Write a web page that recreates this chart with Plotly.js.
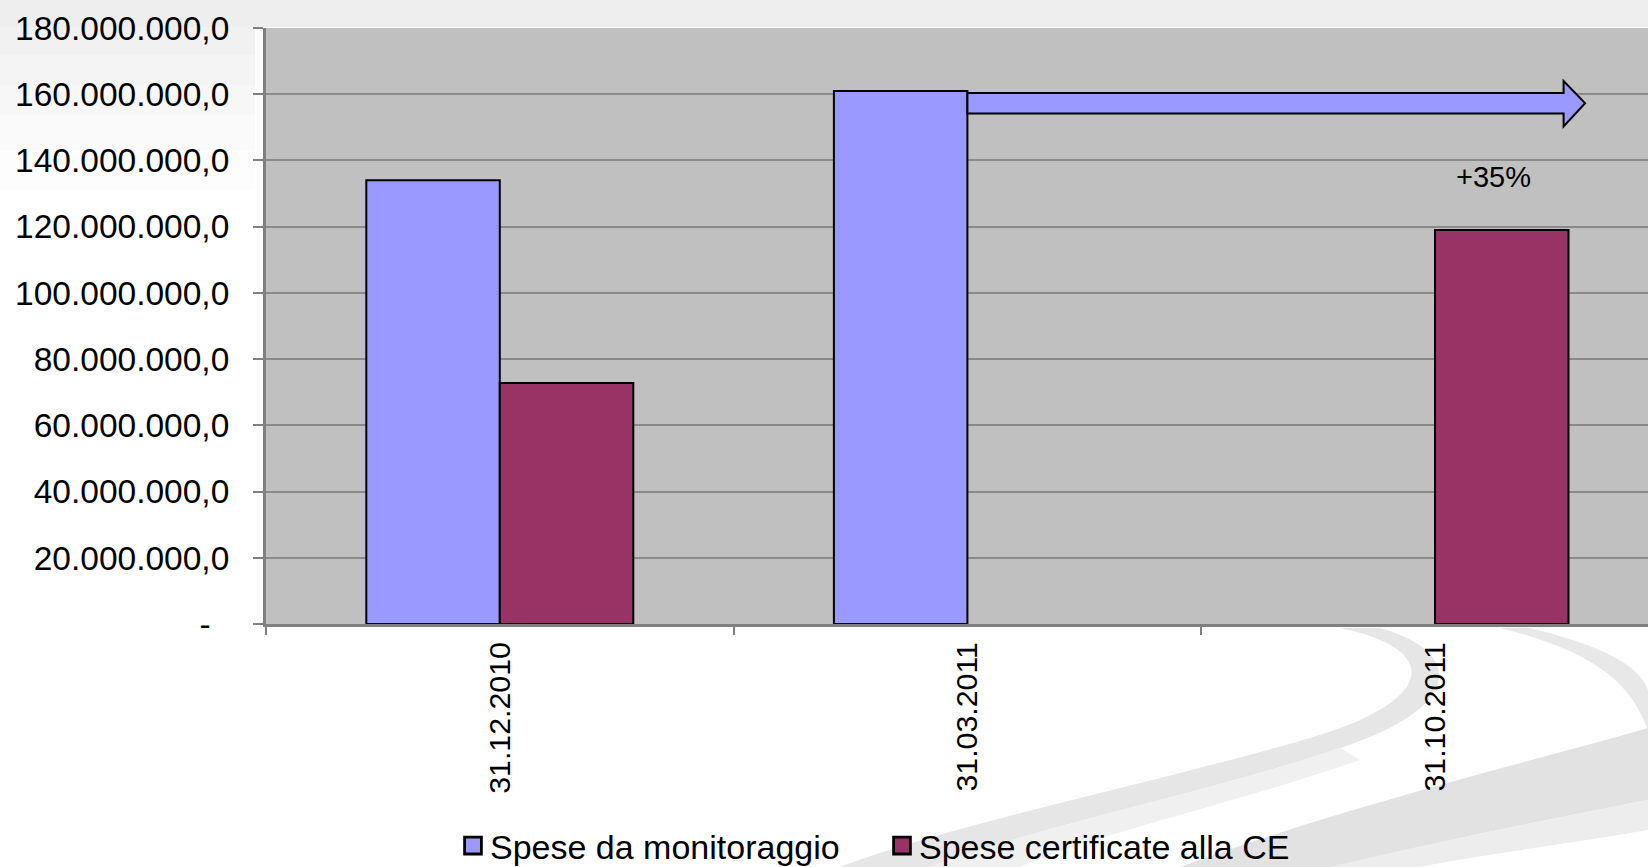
<!DOCTYPE html>
<html>
<head>
<meta charset="utf-8">
<script src="https://cdn.plot.ly/plotly-3.0.1.min.js"></script>
<style>html,body{margin:0;padding:0;background:#fff;}#chart{width:1648px;height:867px;}</style>
</head>
<body>
<div id="chart"></div>
<script>
// ---- data ----
const categories = ['31.12.2010', '31.03.2011', '31.10.2011'];
const seriesNames = ['Spese da monitoraggio', 'Spese certificate alla CE'];
const speseMonitoraggio = [134.0e6, 161.0e6, null];
const speseCertificate = [72.8e6, null, 119.0e6];
const yTickVals = [0, 20e6, 40e6, 60e6, 80e6, 100e6, 120e6, 140e6, 160e6, 180e6];
const growthLabel = '+35%';

// ---- helpers ----
function fmtIt(v) {
  if (v === 0) return '-\u00a0\u00a0';
  const s = Math.round(v).toString().replace(/\B(?=(\d{3})+(?!\d))/g, '.');
  return s + ',0';
}
const yTickText = yTickVals.map(fmtIt);

const W = 1648, H = 867;
const M = {l: 266, r: 0, t: 28, b: 243};
const plotW = W - M.l - M.r, plotH = H - M.t - M.b;
// pixel -> paper (for background decoration only)
const px = x => (x - M.l) / plotW;
const py = y => (H - M.b - y) / plotH;
function pathPx(cmds) {
  return cmds.replace(/(-?\d+(?:\.\d+)?),(-?\d+(?:\.\d+)?)/g, (m, a, b) => px(+a).toFixed(5) + ',' + py(+b).toFixed(5));
}

const font = 'Arial, "Liberation Sans", sans-serif';
const blue = '#9999ff', plum = '#993366';

const traces = [
  {type: 'bar', name: seriesNames[0], x: categories, y: speseMonitoraggio,
   marker: {color: blue, line: {color: '#000', width: 2}}, hoverinfo: 'x+y'},
  {type: 'bar', name: seriesNames[1], x: categories, y: speseCertificate,
   marker: {color: plum, line: {color: '#000', width: 2}}, hoverinfo: 'x+y'}
];

// arrow geometry (relative to the 31.03.2011 monitoring bar)
const peak = speseMonitoraggio[1];
const ax0 = 1.0, axHead = 2.275, axTip = 2.321;
const bodyTop = peak - 0.6e6, bodyBot = peak - 6.8e6;
const headTop = peak + 3.0e6, headBot = peak - 10.7e6, tipY = (bodyTop + bodyBot) / 2;
const arrowPath = `M ${ax0},${bodyTop} L ${axHead},${bodyTop} L ${axHead},${headTop} L ${axTip},${tipY} L ${axHead},${headBot} L ${axHead},${bodyBot} L ${ax0},${bodyBot} Z`;

// background decoration (slide template)
const bgShapes = [];
const gradRows = [[0, 27, '#eeeeee'], [27, 55, '#f1f1f1'], [55, 85, '#f4f4f4'], [85, 115, '#f7f7f7'], [115, 150, '#fafafa'], [150, 190, '#fdfdfd']];
gradRows.forEach(([y0, y1, c]) => {
  const xr = y0 < 27 ? W : 255;
  bgShapes.push({type: 'rect', xref: 'paper', yref: 'paper', x0: px(0), x1: px(xr), y0: py(y1), y1: py(y0),
    fillcolor: c, line: {width: 0}, layer: 'below'});
});
const swooshes = [
  ['M 1180,867 C 1350,805 1500,770 1648,728 L 1648,800 C 1520,825 1420,845 1340,867 Z', '#e2e2e2'],
  ['M 1330,867 C 1420,845 1520,825 1648,800 L 1648,830 C 1560,845 1480,855 1420,867 Z', '#ededed'],
  ['M 1340,628 C 1440,648 1440,700 1310,738 C 1160,782 960,822 840,867 L 930,867 C 1040,825 1220,790 1340,748 C 1470,705 1460,650 1380,628 Z', '#e6e6e6'],
  ['M 930,867 C 1040,825 1220,790 1340,748 L 1360,760 C 1230,805 1090,835 1020,867 Z', '#f0f0f0'],
  ['M 1530,628 C 1600,645 1640,665 1648,690 L 1648,730 C 1630,680 1590,650 1500,628 Z', '#e8e8e8']
];
swooshes.forEach(([p, c]) => bgShapes.push({type: 'path', xref: 'paper', yref: 'paper', path: pathPx(p),
  fillcolor: c, line: {width: 0}, layer: 'below'}));

const layout = {
  width: W, height: H,
  margin: M,
  paper_bgcolor: '#ffffff',
  plot_bgcolor: '#c0c0c0',
  barmode: 'group', bargap: 0.429, bargroupgap: 0,
  showlegend: true,
  font: {family: font, color: '#000'},
  xaxis: {
    type: 'category', categoryorder: 'array', categoryarray: categories,
    range: [-0.5, -0.5 + plotW / 467.6],
    tickson: 'boundaries', ticks: 'outside', ticklen: 8, tickwidth: 1.5, tickcolor: '#808080',
    showline: true, linecolor: '#808080', linewidth: 3,
    showgrid: false, zeroline: false, automargin: false,
    tickangle: -90, tickfont: {family: font, size: 30.3, color: '#000'},
    ticklabelstandoff: 3, fixedrange: true
  },
  yaxis: {
    range: [0, 180e6], tickmode: 'array', tickvals: yTickVals, ticktext: yTickText,
    ticks: 'outside', ticklen: 10, tickwidth: 2, tickcolor: '#808080',
    showline: true, linecolor: '#808080', linewidth: 3,
    showgrid: true, gridcolor: '#8a8a8a', gridwidth: 2, zeroline: false, automargin: false,
    tickfont: {family: font, size: 33.5, color: '#000'},
    ticklabelstandoff: 17, fixedrange: true
  },
  legend: {
    orientation: 'h', xref: 'paper', x: px(450), xanchor: 'left',
    yref: 'container', y: (H - 846) / H, yanchor: 'middle',
    font: {family: font, size: 34, color: '#000'}, bgcolor: 'rgba(0,0,0,0)',
    entrywidth: 384, entrywidthmode: 'pixels', itemclick: false, itemdoubleclick: false
  },
  shapes: bgShapes.concat([
    {type: 'path', xref: 'x', yref: 'y', path: arrowPath, fillcolor: blue, line: {color: '#000', width: 2}, layer: 'above'}
  ]),
  annotations: [
    {xref: 'x', yref: 'y', x: 2.125, y: 135.0e6, text: growthLabel, showarrow: false,
     font: {family: font, size: 29, color: '#000'}, xanchor: 'center', yanchor: 'middle'}
  ]
};

function enlargeLegendSymbols() {
  document.querySelectorAll('#chart .legendpoints path').forEach(p => {
    if (!p.dataset.base) p.dataset.base = p.getAttribute('transform') || '';
    p.setAttribute('transform', p.dataset.base + ' translate(3,0) scale(1.4)');
  });
}

Plotly.newPlot('chart', traces, layout, {displayModeBar: false}).then(gd => {
  enlargeLegendSymbols();
  gd.on('plotly_afterplot', enlargeLegendSymbols);
});
</script>
</body>
</html>
